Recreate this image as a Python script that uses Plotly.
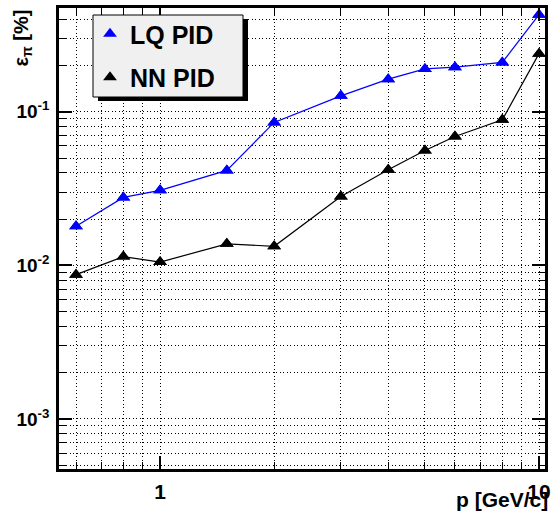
import plotly.graph_objects as go
import numpy as np

p_vals = [0.6, 0.8, 1.0, 1.5, 2.0, 3.0, 4.0, 5.0, 6.0, 8.0, 10.0]
lq_pid = [0.0180, 0.0277, 0.0308, 0.0415, 0.0852, 0.127, 0.163, 0.190, 0.195, 0.2095, 0.429]
nn_pid = [0.0087, 0.0114, 0.0105, 0.0138, 0.0133, 0.0281, 0.0419, 0.056, 0.069, 0.0887, 0.239]

x_major = [1, 10]
x_major_text = ["1", "10"]
y_major = [1e-3, 1e-2, 1e-1]
y_major_text = ["10<sup>-3</sup>", "10<sup>-2</sup>", "10<sup>-1</sup>"]

x_minor = [0.6, 0.7, 0.8, 0.9, 2, 3, 4, 5, 6, 7, 8, 9]
y_minor = [m * 10.0**e for e in (-4, -3, -2, -1) for m in range(2, 10)]

FONT = "Liberation Sans, Arial, Helvetica, sans-serif"

series = [("LQ PID", lq_pid, "#0000ff", "a"), ("NN PID", nn_pid, "black", "b")]

fig = go.Figure()
for name, vals, col, grp in series:
    fig.add_trace(go.Scatter(x=p_vals, y=vals, mode="lines+markers", name=name,
                             line=dict(color=col, width=1.2),
                             marker=dict(symbol="triangle-up", size=12, color=col),
                             showlegend=False))
for name, vals, col, grp in series:
    # legend entry (marker only), drawn on top of the same points
    fig.add_trace(go.Scatter(x=p_vals, y=vals, mode="markers", name=name,
                             marker=dict(symbol="triangle-up", size=12, color=col),
                             legendgroup=grp, showlegend=True))

W, H = 554, 516
L, R, T, B = 59, 9, 8, 47
pw, ph = W - L - R, H - T - B

def px(xp):
    return (xp - L) / pw

def py(yp):
    return (H - B - yp) / ph

# legend shadow and box
fig.add_shape(type="rect", xref="paper", yref="paper",
              x0=px(98), x1=px(248), y0=py(101), y1=py(19),
              fillcolor="black", line=dict(width=0), layer="above")
fig.add_shape(type="rect", xref="paper", yref="paper",
              x0=px(93), x1=px(243), y0=py(97), y1=py(15),
              fillcolor="#f0f0f0", line=dict(color="black", width=1), layer="above")

DOT = "1px,2.5px"
axis_common = dict(
    showline=True, linecolor="black", linewidth=2.5, mirror="allticks",
    ticks="inside", ticklen=13, tickwidth=1.5, tickcolor="black",
    showgrid=True, gridcolor="black", griddash=DOT, gridwidth=1,
    zeroline=False, automargin=False,
)

fig.update_xaxes(type="log", range=[np.log10(0.541), np.log10(10.37)],
                 tickmode="array", tickvals=x_major, ticktext=x_major_text,
                 ticklabelstandoff=2,
                 tickfont=dict(family=FONT, size=21, color="black", weight="bold"),
                 minor=dict(tickvals=x_minor, ticks="inside", ticklen=7, tickwidth=1.2,
                            tickcolor="black", showgrid=True, gridcolor="black",
                            griddash=DOT, gridwidth=1),
                 **axis_common)
fig.update_yaxes(type="log", range=[-3.326, -0.3244],
                 tickmode="array", tickvals=y_major, ticktext=y_major_text,
                 ticklabelstandoff=3,
                 tickfont=dict(family=FONT, size=19, color="black", weight="bold"),
                 minor=dict(tickvals=y_minor, ticks="inside", ticklen=7, tickwidth=1.2,
                            tickcolor="black", showgrid=True, gridcolor="black",
                            griddash=DOT, gridwidth=1),
                 **axis_common)

fig.add_annotation(text="p [GeV/c]", xref="paper", yref="paper", x=px(550), y=py(513),
                   xanchor="right", yanchor="bottom", showarrow=False,
                   font=dict(family=FONT, size=21, color="black", weight="bold"))
fig.add_annotation(text="ε<sub>π</sub> [%]", xref="paper", yref="paper", x=px(22), y=py(8),
                   xanchor="center", yanchor="top", textangle=-90, showarrow=False,
                   font=dict(family=FONT, size=20, color="black", weight="bold"))

fig.update_layout(
    width=W, height=H,
    margin=dict(l=L, r=R, t=T, b=B, autoexpand=False),
    paper_bgcolor="white", plot_bgcolor="white",
    showlegend=True,
    legend=dict(x=px(90), y=py(11), xanchor="left", yanchor="top",
                bgcolor="rgba(0,0,0,0)", borderwidth=0,
                font=dict(family=FONT, size=25, color="black", weight="bold"),
                itemsizing="constant", tracegroupgap=8, traceorder="grouped"),
)

fig.write_html("out.html", config={"displayModeBar": False},
               post_script="document.body.style.margin='0';document.body.style.overflow='hidden';")
